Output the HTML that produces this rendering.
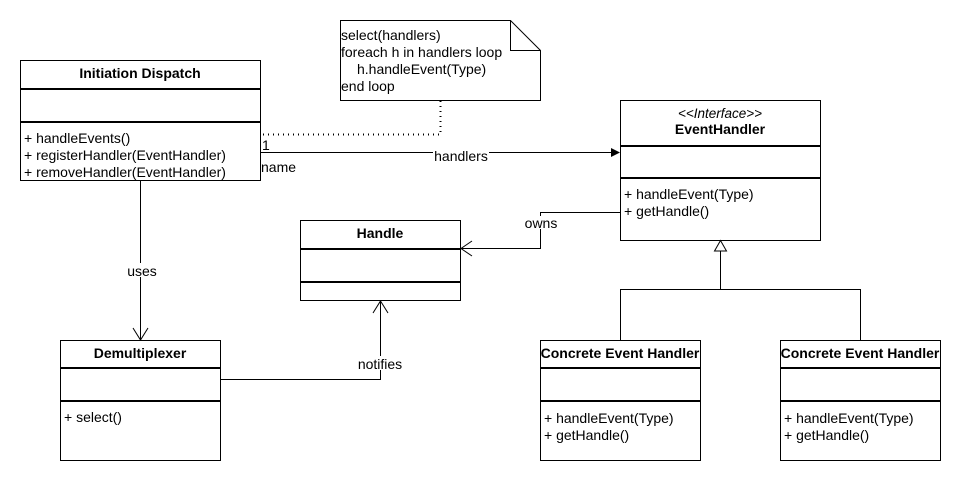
<!DOCTYPE html>
<html><head><meta charset="utf-8"><style>
html,body{margin:0;padding:0;background:#fff;}
svg{display:block;font-family:"Liberation Sans",Arial,sans-serif;font-size:14px;}
</style></head><body>
<svg width="961" height="481" viewBox="0 0 961 481" xmlns="http://www.w3.org/2000/svg">
<rect width="961" height="481" fill="#fff"/>
<g fill="none" stroke="#000" stroke-width="1">
<rect x="20.5" y="60.5" width="240" height="120"/>
<rect x="300.5" y="220.5" width="160" height="80"/>
<rect x="620.5" y="100.5" width="200" height="140"/>
<rect x="60.5" y="340.5" width="160" height="120"/>
<rect x="540.5" y="340.5" width="160" height="120"/>
<rect x="780.5" y="340.5" width="160" height="120"/>
<path d="M340.5 20.5 H510.5 L540.5 50.5 V100.5 H340.5 Z"/>
<path d="M510.5 20.5 V50.5 H540.5"/>
</g>
<g stroke="#000" stroke-width="2">
<line x1="20" y1="89" x2="261" y2="89"/><line x1="20" y1="122" x2="261" y2="122"/>
<line x1="300" y1="249" x2="461" y2="249"/><line x1="300" y1="282" x2="461" y2="282"/>
<line x1="620" y1="146" x2="821" y2="146"/><line x1="620" y1="178" x2="821" y2="178"/>
<line x1="60" y1="368" x2="221" y2="368"/><line x1="60" y1="401" x2="221" y2="401"/>
<line x1="540" y1="368" x2="701" y2="368"/><line x1="540" y1="401" x2="701" y2="401"/>
<line x1="780" y1="368" x2="941" y2="368"/><line x1="780" y1="401" x2="941" y2="401"/>
</g>
<g fill="none" stroke="#000" stroke-width="1">
<path d="M440.5 101 V134.5 H262" stroke-dasharray="1 4" stroke-width="2"/>
<line x1="260" y1="152.5" x2="612" y2="152.5"/>
<path d="M620 212.5 H540.5 V248.5 H461"/>
<path d="M472 241 L461 248.5 L472 256"/>
<line x1="140.5" y1="181" x2="140.5" y2="339"/>
<path d="M133 328 L140.5 340 L148 328"/>
<path d="M221 379.5 H380.5 V301"/>
<path d="M373 313 L380.5 301 L388 313"/>
<path d="M720.5 251 V289.5 M620.5 340 V289.5 H860.5 V340"/>
<path d="M720.5 240.5 L714.5 251 H726.5 Z" fill="#fff"/>
</g>
<path d="M620 152.5 L611 148 L611 157 Z" fill="#000"/>
<g fill="#000">
<text x="140" y="78" text-anchor="middle" font-weight="bold">Initiation Dispatch</text>
<text x="24" y="143">+ handleEvents()</text>
<text x="24" y="160">+ registerHandler(EventHandler)</text>
<text x="24" y="177">+ removeHandler(EventHandler)</text>
<text x="380" y="238" text-anchor="middle" font-weight="bold">Handle</text>
<text x="720" y="118" text-anchor="middle" font-style="italic" font-size="13.5">&lt;&lt;Interface&gt;&gt;</text>
<text x="720" y="134" text-anchor="middle" font-weight="bold">EventHandler</text>
<text x="624" y="199">+ handleEvent(Type)</text>
<text x="624" y="216">+ getHandle()</text>
<text x="140" y="358" text-anchor="middle" font-weight="bold">Demultiplexer</text>
<text x="64" y="422">+ select()</text>
<text x="620" y="358" text-anchor="middle" font-weight="bold">Concrete Event Handler</text>
<text x="544" y="423">+ handleEvent(Type)</text>
<text x="544" y="440">+ getHandle()</text>
<text x="860" y="358" text-anchor="middle" font-weight="bold">Concrete Event Handler</text>
<text x="784" y="423">+ handleEvent(Type)</text>
<text x="784" y="440">+ getHandle()</text>
<text x="341" y="40">select(handlers)</text>
<text x="341" y="57">foreach h in handlers loop</text>
<text x="357" y="74">h.handleEvent(Type)</text>
<text x="341" y="91">end loop</text>
<text x="262" y="150">1</text>
<text x="261" y="172">name</text>
<rect x="433" y="147" width="56" height="13" fill="#fff"/>
<text x="461" y="161" text-anchor="middle">handlers</text>
<rect x="524" y="216" width="34" height="13" fill="#fff"/>
<text x="541" y="228" text-anchor="middle">owns</text>
<rect x="126" y="263" width="30" height="14" fill="#fff"/>
<text x="142" y="276" text-anchor="middle">uses</text>
<rect x="357" y="356" width="46" height="14" fill="#fff"/>
<text x="380" y="369" text-anchor="middle">notifies</text>
</g>
</svg>
</body></html>
